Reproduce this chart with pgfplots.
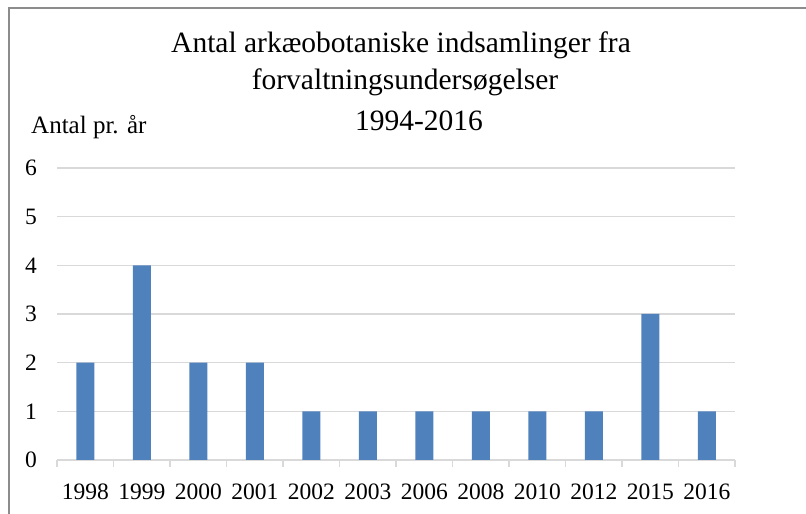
\documentclass[border=0pt]{standalone}
\usepackage{pgfplots}
\pgfplotsset{compat=1.18}
\usepackage{fontspec}
\setmainfont{Liberation Serif}
\definecolor{barblue}{HTML}{4F81BD}
\definecolor{gridgray}{HTML}{D9D9D9}
\definecolor{framegray}{HTML}{8C8C8C}
\begin{document}
\begin{tikzpicture}[x=1pt,y=1pt]
\useasboundingbox (0,0) rectangle (806,514);
\draw[framegray, line width=2pt] (9,0) -- (9,506) -- (806,506);
\begin{axis}[
  at={(57pt,54pt)}, anchor=south west,
  scale only axis, width=678pt, height=292pt,
  xmin=-0.5, xmax=11.5, ymin=0, ymax=6,
  axis x line=bottom, axis y line=left,
  x axis line style={gridgray, line width=1.3pt, -},
  y axis line style={draw=none},
  xtick={0,...,11},
  xticklabels={1998,1999,2000,2001,2002,2003,2006,2008,2010,2012,2015,2016},
  minor xtick={-0.5,0.5,...,11.5},
  major tick length=0pt, minor tick length=7pt,
  tick align=outside,
  minor tick style={gridgray, line width=1.3pt},
  ytick={0,...,6},
  ymajorgrids, grid style={gridgray, line width=1.3pt},
  /pgf/number format/assume math mode=true,
  ticklabel style={font=\fontsize{23.5}{27}\selectfont, inner sep=0pt},
  xticklabel style={anchor=north, yshift=-24pt},
  yticklabel style={anchor=east, xshift=-20pt},
  clip=false,
]
\addplot[ybar, bar width=18pt, fill=barblue, draw=none] coordinates {
(0,2) (1,4) (2,2) (3,2) (4,1) (5,1) (6,1) (7,1) (8,1) (9,1) (10,3) (11,1)};
\end{axis}
\node[font=\fontsize{29.5}{34}\selectfont, inner sep=0pt] at (401,469) {Antal arkæobotaniske indsamlinger fra};
\node[font=\fontsize{29.5}{34}\selectfont, inner sep=0pt] at (405,432) {forvaltningsundersøgelser};
\node[font=\fontsize{29.5}{34}\selectfont, inner sep=0pt] at (419,393) {1994-2016};
\node[font=\fontsize{25}{30}\selectfont, inner sep=0pt, anchor=west] at (31,387) {Antal pr. år};
\end{tikzpicture}
\end{document}
